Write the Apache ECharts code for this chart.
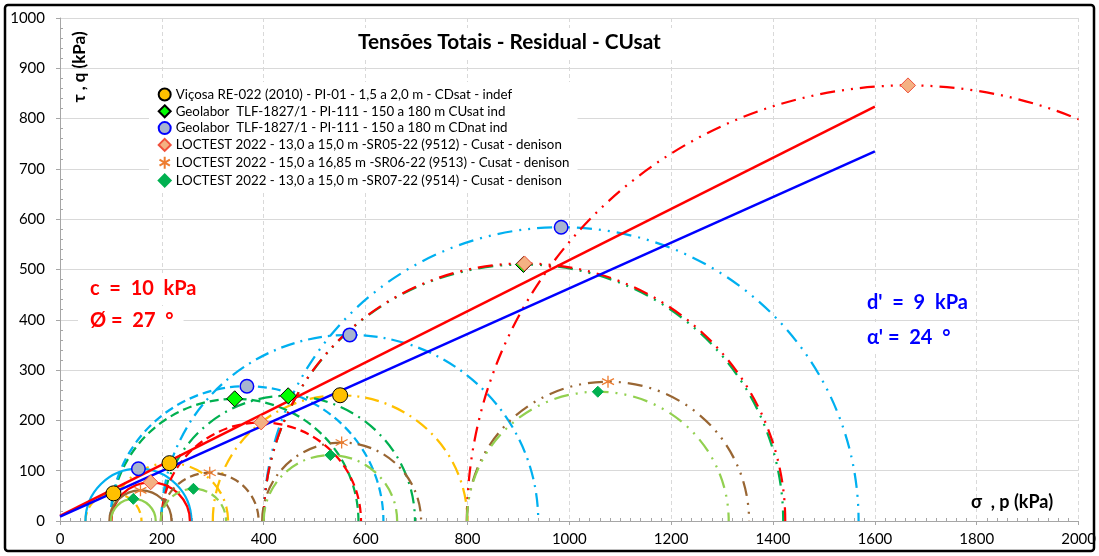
<!DOCTYPE html>
<html><head><meta charset="utf-8">
<script src="https://cdn.jsdelivr.net/npm/echarts@6/dist/echarts.min.js"></script>
<style>html,body{margin:0;padding:0;background:#fff}#c{width:1099px;height:556px}</style>
</head><body><div id="c"></div>
<script>
// ---- data (p = centre, q = radius / top of each Mohr circle) ----
const vicosaP = [105, 215, 550];
const vicosaQ = [55, 115, 250];
const geoCuP = [343, 448, 910];
const geoCuQ = [243, 249, 510];
const geoCdP = [154, 367, 569, 984];
const geoCdQ = [104, 268, 370, 584];
const sr05P = [178, 395, 912, 1665];
const sr05Q = [77, 196, 512, 866];
const sr06P = [158, 294, 553, 1076];
const sr06Q = [61, 96, 156, 277];
const sr07P = [144, 262, 531, 1056];
const sr07Q = [44, 64, 131, 257];
const envRedX = [0, 1600];
const envRedY = [10, 824];
const envBlueX = [0, 1600];
const envBlueY = [8.5, 735];
const seriesNames = [
  'Viçosa RE-022 (2010) - PI-01 - 1,5 a 2,0 m - CDsat - indef',
  'Geolabor  TLF-1827/1 - PI-111 - 150 a 180 m CUsat ind',
  'Geolabor  TLF-1827/1 - PI-111 - 150 a 180 m CDnat ind',
  'LOCTEST 2022 - 13,0 a 15,0 m -SR05-22 (9512) - Cusat - denison',
  'LOCTEST 2022 - 15,0 a 16,85 m -SR06-22 (9513) - Cusat - denison',
  'LOCTEST 2022 - 13,0 a 15,0 m -SR07-22 (9514) - Cusat - denison'
];

// ---- styles ----
const FONT = 'Lato, "Liberation Sans", sans-serif';
const SOLID = null, DASH = [9, 5], DASHDOT = [14, 6, 2, 6], DDD = [15, 7, 2, 7, 2, 7];
const zip = (a, b) => a.map((v, i) => [v, b[i]]);

function circleSeries(P, Q, color, dashes) {
  return {
    type: 'custom', silent: true, clip: true, z: 2,
    data: zip(P, Q),
    encode: { x: 0, y: 1 },
    renderItem: function (params, api) {
      const p = api.value(0), q = api.value(1);
      const a = api.coord([p - q, 0]);
      const b = api.coord([p + q, 0]);
      const t = api.coord([p, q]);
      const rx = (b[0] - a[0]) / 2, ry = a[1] - t[1];
      const d = dashes[params.dataIndex];
      const cs = params.coordSys;
      return {
        type: 'path',
        shape: { pathData: 'M' + a[0] + ' ' + a[1] + ' A' + rx + ' ' + ry + ' 0 0 1 ' + b[0] + ' ' + b[1] },
        style: { fill: 'none', stroke: color, lineWidth: 2.25, lineDash: d || null },
        clipPath: { type: 'rect', shape: { x: cs.x, y: cs.y, width: cs.width, height: cs.height } }
      };
    }
  };
}

const asterisk = 'path://M5,0L5,10M0.67,2.5L9.33,7.5M0.67,7.5L9.33,2.5';

const series = [
  circleSeries(vicosaP, vicosaQ, '#FFC000', [DASH, DASHDOT, DASHDOT]),
  circleSeries(geoCuP, geoCuQ, '#00B050', [DASH, DASHDOT, DDD]),
  circleSeries(geoCdP, geoCdQ, '#00B0F0', [SOLID, DASH, DASHDOT, DDD]),
  circleSeries(sr05P, sr05Q, '#FF0000', [SOLID, DASH, DDD, DDD]),
  circleSeries(sr06P, sr06Q, '#996633', [SOLID, DASH, DASHDOT, DDD]),
  circleSeries(sr07P, sr07Q, '#92D050', [SOLID, DASH, DASHDOT, DDD]),
  { type: 'line', z: 3, silent: true, symbol: 'none', data: zip(envRedX, envRedY),
    lineStyle: { color: '#FF0000', width: 2.5 } },
  { type: 'line', z: 3, silent: true, symbol: 'none', data: zip(envBlueX, envBlueY),
    lineStyle: { color: '#0000FF', width: 2.5 } },
  { name: seriesNames[0], type: 'scatter', z: 4, symbol: 'circle', symbolSize: 15, data: zip(vicosaP, vicosaQ),
    itemStyle: { color: '#FFC000', borderColor: '#000', borderWidth: 1, opacity: 1 } },
  { name: seriesNames[1], type: 'scatter', z: 4, symbol: 'diamond', symbolSize: 16, data: zip(geoCuP, geoCuQ),
    itemStyle: { color: '#00FF00', borderColor: '#000', borderWidth: 1, opacity: 1 } },
  { name: seriesNames[2], type: 'scatter', z: 4, symbol: 'circle', symbolSize: 13.5, data: zip(geoCdP, geoCdQ),
    itemStyle: { color: '#A8B4CF', borderColor: '#0000FF', borderWidth: 1.5, opacity: 1 } },
  { name: seriesNames[3], type: 'scatter', z: 4, symbol: 'diamond', symbolSize: 15, data: zip(sr05P, sr05Q),
    itemStyle: { color: '#F4B183', borderColor: '#F0503C', borderWidth: 1, opacity: 1 } },
  { name: seriesNames[4], type: 'scatter', z: 4, symbol: asterisk, symbolSize: 12, data: zip(sr06P, sr06Q),
    itemStyle: { color: 'none', borderColor: '#ED7D31', borderWidth: 1.3, opacity: 1 } },
  { name: seriesNames[5], type: 'scatter', z: 4, symbol: 'diamond', symbolSize: 11, data: zip(sr07P, sr07Q),
    itemStyle: { color: '#00B050', borderColor: '#00B050', borderWidth: 1, opacity: 1 } }
];

const chart = echarts.init(document.getElementById('c'), null, { renderer: 'canvas' });
chart.setOption({
  animation: false,
  backgroundColor: '#fff',
  title: {
    text: 'Tensões Totais - Residual - CUsat',
    left: 346, top: 28, padding: [4, 12],
    backgroundColor: '#fff',
    textStyle: { fontFamily: FONT, fontWeight: 'bold', fontSize: 20.8, color: '#000' }
  },
  legend: {
    data: seriesNames,
    orient: 'vertical', left: 149, top: 82,
    padding: [5, 8], itemGap: 1.8, itemWidth: 12, itemHeight: 12,
    backgroundColor: '#fff',
    textStyle: { fontFamily: FONT, fontSize: 13.3, color: '#000', lineHeight: 15 }
  },
  grid: { left: 60, right: 20, top: 18, bottom: 35, containLabel: false },
  xAxis: {
    type: 'value', min: 0, max: 2000, interval: 200,
    axisLine: { lineStyle: { color: '#A6A6A6', width: 1 } },
    axisTick: { show: true, length: 4, lineStyle: { color: '#A6A6A6' } },
    minorTick: { show: true, splitNumber: 10, length: -3, lineStyle: { color: '#A6A6A6' } },
    axisLabel: { fontFamily: FONT, fontSize: 15, color: '#000', margin: 11, formatter: v => String(v) },
    splitLine: { show: true, lineStyle: { color: '#D9D9D9', type: [4, 3], width: 1 } }
  },
  yAxis: {
    type: 'value', min: 0, max: 1000, interval: 100,
    axisLine: { show: true, lineStyle: { color: '#A6A6A6', width: 1 } },
    axisTick: { show: true, length: 4, lineStyle: { color: '#A6A6A6' } },
    minorTick: { show: true, splitNumber: 5, length: -3, lineStyle: { color: '#A6A6A6' } },
    axisLabel: { fontFamily: FONT, fontSize: 15, color: '#000', margin: 15, formatter: v => String(v) },
    splitLine: { show: true, lineStyle: { color: '#D9D9D9', type: 'solid', width: 1 } }
  },
  graphic: [
    { type: 'rect', z: 100, silent: true, shape: { x: 5, y: 5, width: 1089, height: 546, r: 3 },
      style: { fill: 'none', stroke: '#000', lineWidth: 2.5 } },
    { type: 'text', z: 50, x: 80, y: 67, rotation: Math.PI / 2,
      style: { text: 'τ , q (kPa)', font: 'bold 17px ' + FONT, fill: '#000', align: 'center', verticalAlign: 'middle' } },
    { type: 'text', z: 50, x: 1012, y: 502,
      style: { text: 'σ  , p (kPa)', font: 'bold 18px ' + FONT, fill: '#000', align: 'center', verticalAlign: 'middle' } },
    { type: 'text', z: 50, x: 78, y: 289,
      style: { text: 'c  =  10  kPa', font: 'bold 20px ' + FONT, fill: '#FF0000', verticalAlign: 'middle', backgroundColor: '#fff', padding: [6, 14, 6, 12] } },
    { type: 'text', z: 50, x: 78, y: 321,
      style: { text: 'Ø =  27  °', font: 'bold 20px ' + FONT, fill: '#FF0000', verticalAlign: 'middle', backgroundColor: '#fff', padding: [4, 10, 6, 12] } },
    { type: 'text', z: 50, x: 857, y: 303,
      style: { text: "d'  =  9  kPa", font: 'bold 20px ' + FONT, fill: '#0000FF', verticalAlign: 'middle', backgroundColor: '#fff', padding: [6, 8, 6, 10] } },
    { type: 'text', z: 50, x: 857, y: 338,
      style: { text: "α' =  24  °", font: 'bold 20px ' + FONT, fill: '#0000FF', verticalAlign: 'middle', backgroundColor: '#fff', padding: [6, 8, 6, 10] } }
  ],
  series: series
});
</script></body></html>
